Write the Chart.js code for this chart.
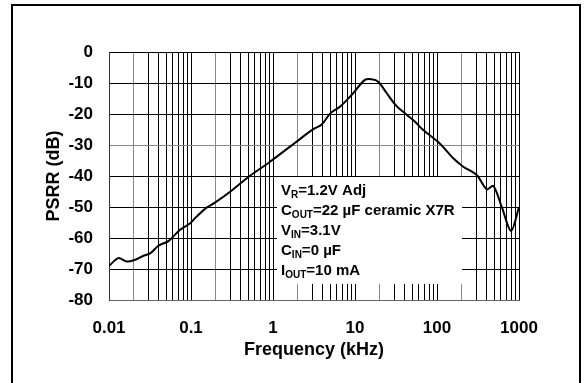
<!DOCTYPE html>
<html>
<head>
<meta charset="utf-8">
<script src="https://cdn.jsdelivr.net/npm/chart.js@4.4.1/dist/chart.umd.min.js"></script>
<style>
	body { margin: 0; background: #fff; }
	canvas { display: block; }
</style>
</head>
<body>
<canvas id="psrrChart" width="584" height="383"></canvas>
<script>
// PSRR vs frequency
const frequencies = [0.01, 0.013, 0.0165, 0.02, 0.026, 0.032, 0.04, 0.053, 0.073, 0.097, 0.117, 0.155, 0.196,
	0.3, 0.52, 0.92, 1.94, 3.1, 3.9, 5.0, 6.6, 9.5, 13.2, 16, 19.2, 24.4, 32, 43, 54, 68, 108, 158, 209,
	305, 404, 486, 615, 800, 1000];
const psrrValues = [-69, -66.5, -67.6, -67.2, -65.8, -64.9, -62.5, -61.0, -57.4, -55.3, -53.1, -50.2, -48.6,
	-45.1, -40.0, -35.4, -28.9, -24.9, -23.5, -19.8, -17.6, -13.3, -9.0, -8.8, -9.6, -13.3, -17.4, -20.3, -22.5,
	-25.2, -29.5, -34.3, -37.0, -39.7, -44.3, -43.2, -49.9, -57.7, -50];

const xDecades = [0.01, 0.1, 1, 10, 100, 1000];
const xTickLabels = ['0.01', '0.1', '1', '10', '100', '1000'];
const yTickLabels = ['0', '-10', '-20', '-30', '-40', '-50', '-60', '-70', '-80'];

const noteLines = [
	['V', 'R', '=1.2V Adj'],
	['C', 'OUT', '=22 µF ceramic X7R'],
	['V', 'IN', '=3.1V'],
	['C', 'IN', '=0 µF'],
	['I', 'OUT', '=10 mA']
];
// where the condition box sits, in axis units
const noteBox = {fromKHz: 1.12, toKHz: 202, fromDb: -40, toDb: -74.8};

const FONT = '"Liberation Sans", Arial, sans-serif';

// grid at 1..9 of every decade
const gridValues = [];
xDecades.forEach((d, i) => {
	if (i === xDecades.length - 1) {
		gridValues.push(d);
		return;
	}
	for (let m = 1; m < 10; m++) gridValues.push(m === 1 ? d : +(d * m).toPrecision(3));
});

function isTwoLine(v) {
	return xDecades.some(d => Math.abs(v / d - 2) < 1e-6);
}

const notePlugin = {
	id: 'note',
	beforeDraw(chart) {
		const ctx = chart.ctx;
		ctx.save();
		ctx.fillStyle = '#fff';
		ctx.fillRect(0, 0, chart.width, chart.height);
		ctx.strokeStyle = '#000';
		ctx.lineWidth = 2;
		ctx.beginPath();
		ctx.moveTo(12, chart.height + 5);
		ctx.lineTo(12, 5);
		ctx.lineTo(580, 5);
		ctx.lineTo(580, chart.height + 5);
		ctx.stroke();
		ctx.restore();
	},
	beforeDatasetsDraw(chart) {
		const ctx = chart.ctx;
		const x = chart.scales.x, y = chart.scales.y;
		const left = x.getPixelForValue(noteBox.fromKHz);
		const right = x.getPixelForValue(noteBox.toKHz);
		const top = y.getPixelForValue(noteBox.fromDb) + 1;
		const bottom = y.getPixelForValue(noteBox.toDb);
		ctx.save();
		ctx.fillStyle = '#fff';
		ctx.fillRect(left, top, right - left, bottom - top);
		ctx.fillStyle = '#000';
		ctx.textBaseline = 'alphabetic';
		noteLines.forEach((line, i) => {
			let tx = left + 4;
			const ty = top + 18 + i * 20;
			ctx.font = 'bold 15px ' + FONT;
			ctx.fillText(line[0], tx, ty);
			tx += ctx.measureText(line[0]).width;
			ctx.font = 'bold 10px ' + FONT;
			ctx.fillText(line[1], tx, ty + 3);
			tx += ctx.measureText(line[1]).width;
			ctx.font = 'bold 15px ' + FONT;
			ctx.fillText(line[2], tx, ty);
		});
		ctx.restore();
	}
};

new Chart(document.getElementById('psrrChart'), {
	type: 'line',
	data: {
		datasets: [{
			label: 'PSRR',
			data: frequencies.map((f, i) => ({x: f, y: psrrValues[i]})),
			borderColor: '#000',
			borderWidth: 2,
			pointRadius: 0,
			tension: 0.3,
			fill: false
		}]
	},
	options: {
		responsive: false,
		animation: false,
		layout: {padding: {top: 52, right: 65, left: 0, bottom: 0}},
		plugins: {
			legend: {display: false},
			tooltip: {enabled: false}
		},
		scales: {
			x: {
				type: 'logarithmic',
				min: 0.01,
				max: 1000,
				afterBuildTicks(scale) {
					scale.ticks = gridValues.map(v => ({value: v}));
				},
				afterFit(scale) {
					scale.height = 83;
				},
				ticks: {
					autoSkip: false,
					maxRotation: 0,
					padding: 18,
					color: '#000',
					font: {family: FONT, size: 17, weight: 'bold'},
					callback(value) {
						const i = xDecades.indexOf(value);
						return i >= 0 ? xTickLabels[i] : '';
					}
				},
				grid: {
					drawTicks: false,
					lineWidth: 1,
					color: ctx => (ctx.tick && isTwoLine(ctx.tick.value)) ? '#888' : '#000'
				},
				border: {color: '#666', width: 1},
				title: {
					display: true,
					text: 'Frequency (kHz)',
					color: '#000',
					font: {family: FONT, size: 18, weight: 'bold'},
					padding: {top: 0, bottom: 22}
				}
			},
			y: {
				min: -80,
				max: 0,
				afterFit(scale) {
					scale.width = 109;
				},
				ticks: {
					stepSize: 10,
					padding: 16,
					color: '#000',
					font: {family: FONT, size: 17, weight: 'bold'},
					callback(value) {
						return yTickLabels[Math.round(-value / 10)];
					}
				},
				grid: {
					drawTicks: false,
					lineWidth: 1,
					color: ctx => (ctx.tick && ctx.tick.value === -30) ? '#888' : '#000'
				},
				border: {color: '#333', width: 1},
				title: {
					display: true,
					text: 'PSRR (dB)',
					color: '#000',
					font: {family: FONT, size: 18, weight: 'bold'},
					padding: {top: 43, bottom: 0}
				}
			}
		}
	},
	plugins: [notePlugin]
});
</script>
</body>
</html>
